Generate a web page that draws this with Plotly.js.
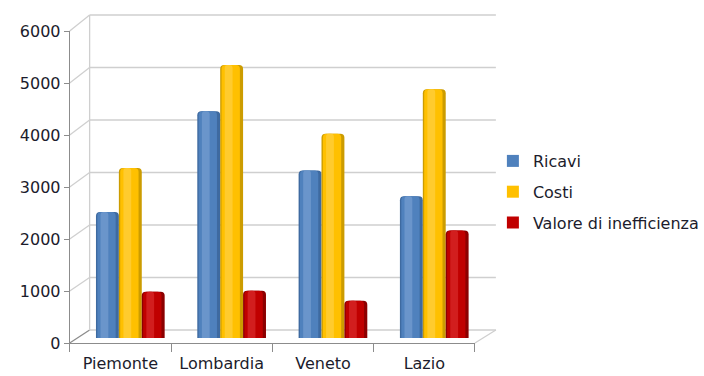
<!DOCTYPE html>
<html>
<head>
<meta charset="utf-8">
<script src="https://cdn.plot.ly/plotly-3.0.1.min.js"></script>
<style>html,body{margin:0;padding:0;background:#fff}#chart{width:704px;height:376px}</style>
</head>
<body>
<div id="chart"></div>
<script>
// ---- data ----
var categories = ["Piemonte", "Lombardia", "Veneto", "Lazio"];
var ricavi = [2400, 4320, 3190, 2700];
var costi = [3240, 5200, 3890, 4740];
var valore = [880, 900, 710, 2050];
var seriesNames = ["Ricavi", "Costi", "Valore di inefficienza"];
var yTicks = [0, 1000, 2000, 3000, 4000, 5000, 6000];

// ---- layout geometry (pixels in a 704x376 page) ----
var W = 704, H = 376;
function px(x) { return x / W; }
function py(y) { return 1 - y / H; }
var FRONT = {x0: 70, x1: 477, yb: 343, yt: 31};
var BACK = {x0: 90, x1: 498, yb: 330, yt: 15};
var MID = {x0: 80, x1: 487, yb: 338, yt: 23};
var YMAX = 6000;

var FONT = {family: "DejaVu Sans, Verdana, sans-serif", size: 16, color: "#1c1c2c"};
var GRID = "#cfcfcf";
var AXIS = "#8c8c8c";

var allSeries = [ricavi, costi, valore];
var palettes = [
  {edge: "#3e6aa0", body: "#4f81bd", hi: "#6a95cb"},
  {edge: "#cc9c00", body: "#ffc000", hi: "#ffcb2e"},
  {edge: "#8c0000", body: "#c00000", hi: "#d21e1e"}
];

var xIdx = categories.map(function (c, i) { return i; });
var barW = 0.226;
var nS = allSeries.length;
var traces = [];

// invisible traces so each axis pair renders
traces.push({type: "scatter", x: [null], y: [null], xaxis: "x2", yaxis: "y2", showlegend: false, hoverinfo: "skip"});
traces.push({type: "scatter", x: [null], y: [null], xaxis: "x", yaxis: "y", showlegend: false, hoverinfo: "skip"});
traces.push({type: "scatter", x: [null], y: [null], xaxis: "x4", yaxis: "y", showlegend: false, hoverinfo: "skip"});

allSeries.forEach(function (vals, s) {
  var off = -barW * nS / 2 + s * barW;
  var p = palettes[s];
  var layers = [
    {c: p.edge, w: barW, o: off},
    {c: p.body, w: barW * 0.8, o: off + barW * 0.06},
    {c: p.hi, w: barW * 0.34, o: off + barW * 0.2}
  ];
  layers.forEach(function (L) {
    traces.push({
      type: "bar", x: xIdx, y: vals, xaxis: "x3", yaxis: "y3",
      width: L.w, offset: L.o, name: seriesNames[s], legendgroup: "g" + s,
      showlegend: false,
      marker: {color: L.c, line: {width: 0}, cornerradius: 4},
      hoverinfo: "skip"
    });
  });
});
// legend entries in the series' main colour
allSeries.forEach(function (vals, s) {
  traces.push({
    type: "bar", x: [null], y: [null], xaxis: "x3", yaxis: "y3",
    name: seriesNames[s], legendgroup: "g" + s, showlegend: true,
    marker: {color: palettes[s].body}
  });
});

function yf(v, g) { return g.yb - v / YMAX * (g.yb - g.yt); }

var shapes = [];
yTicks.forEach(function (v) {
  // side wall diagonals
  shapes.push({type: "line", xref: "paper", yref: "paper", layer: "below",
    x0: px(FRONT.x0), y0: py(yf(v, FRONT)), x1: px(BACK.x0), y1: py(yf(v, BACK)),
    line: {color: v === 0 ? AXIS : GRID, width: 1.3}});
  // back wall gridlines
  shapes.push({type: "line", xref: "paper", yref: "paper", layer: "below",
    x0: px(BACK.x0), y0: py(yf(v, BACK)), x1: px(BACK.x1), y1: py(yf(v, BACK)),
    line: {color: GRID, width: 1.6}});
});
// back wall left edge
shapes.push({type: "line", xref: "paper", yref: "paper", layer: "below",
  x0: px(BACK.x0), y0: py(BACK.yb), x1: px(BACK.x0), y1: py(BACK.yt),
  line: {color: GRID, width: 1.3}});
// floor right diagonal
shapes.push({type: "line", xref: "paper", yref: "paper", layer: "below",
  x0: px(FRONT.x1), y0: py(FRONT.yb), x1: px(BACK.x1), y1: py(BACK.yb),
  line: {color: GRID, width: 1.3}});

var layout = {
  width: W, height: H,
  margin: {l: 0, r: 0, t: 0, b: 0},
  paper_bgcolor: "#ffffff", plot_bgcolor: "rgba(0,0,0,0)",
  font: FONT,
  barmode: "overlay",
  showlegend: true,
  legend: {
    x: px(495), y: py(144), xanchor: "left", yanchor: "top",
    font: FONT, tracegroupgap: 7, itemwidth: 30, bgcolor: "rgba(0,0,0,0)"
  },
  xaxis2: {domain: [px(BACK.x0), px(BACK.x1)], range: [-0.5, 3.5], anchor: "y2",
    visible: false},
  yaxis2: {domain: [py(BACK.yb), py(BACK.yt)], range: [0, YMAX], anchor: "x2",
    visible: false},
  xaxis3: {domain: [px(MID.x0), px(MID.x1)], range: [-0.5, 3.5], anchor: "y3",
    visible: false},
  yaxis3: {domain: [py(MID.yb), py(MID.yt)], range: [0, YMAX], anchor: "x3",
    visible: false},
  xaxis: {domain: [px(FRONT.x0), px(FRONT.x1)], range: [-0.5, 3.5], anchor: "y",
    tickmode: "array", tickvals: [-0.5, 0.5, 1.5, 2.5, 3.5], ticktext: ["", "", "", "", ""],
    ticks: "outside", ticklen: 8, tickcolor: AXIS, showline: true, linecolor: AXIS,
    showgrid: false, zeroline: false},
  xaxis4: {domain: [px(FRONT.x0), px(FRONT.x1)], range: [-0.5, 3.5], anchor: "y", overlaying: "x",
    tickmode: "array", tickvals: xIdx, ticktext: categories, ticks: "", showline: false,
    showgrid: false, zeroline: false, tickfont: FONT, ticklabelstandoff: 9},
  yaxis: {domain: [py(FRONT.yb), py(FRONT.yt)], range: [0, YMAX], anchor: "x",
    tickmode: "array", tickvals: yTicks, ticks: "outside", ticklen: 5, tickcolor: AXIS,
    showline: true, linecolor: AXIS, showgrid: false, zeroline: false, tickfont: FONT},
  shapes: shapes
};

Plotly.newPlot("chart", traces, layout, {staticPlot: true});
</script>
</body>
</html>
